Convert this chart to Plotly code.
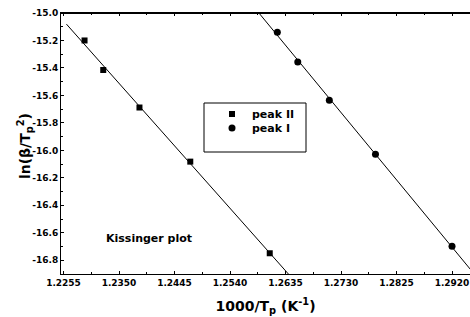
import numpy as np
import plotly.graph_objects as go

# ---- data ----
peak2_x = [1.2291, 1.2323, 1.2385, 1.2472, 1.2608]
peak2_y = [-15.200, -15.415, -15.688, -16.082, -16.749]
peak1_x = [1.2621, 1.2656, 1.2710, 1.2789, 1.2920]
peak1_y = [-15.140, -15.357, -15.635, -16.029, -16.698]

fit2_x = [1.2260, 1.2700]   # extent of fitted line, peak II
fit1_x = [1.2550, 1.2960]   # extent of fitted line, peak I

x_tickvals = [1.2255, 1.2350, 1.2445, 1.2540, 1.2635, 1.2730, 1.2825, 1.2920]
x_ticktext = ["1.2255", "1.2350", "1.2445", "1.2540", "1.2635", "1.2730", "1.2825", "1.2920"]
y_tickvals = [-15.0, -15.2, -15.4, -15.6, -15.8, -16.0, -16.2, -16.4, -16.6, -16.8]
y_ticktext = ["-15.0", "-15.2", "-15.4", "-15.6", "-15.8", "-16.0", "-16.2", "-16.4", "-16.6", "-16.8"]

FONT = "DejaVu Sans"

# linear (Kissinger) fits
c2 = np.polyfit(peak2_x, peak2_y, 1)
c1 = np.polyfit(peak1_x, peak1_y, 1)
f2x = np.array(fit2_x); f1x = np.array(fit1_x)

fig = go.Figure()
fig.add_trace(go.Scatter(x=f2x, y=np.polyval(c2, f2x), mode="lines",
                         line=dict(color="black", width=1), showlegend=False, hoverinfo="skip"))
fig.add_trace(go.Scatter(x=f1x, y=np.polyval(c1, f1x), mode="lines",
                         line=dict(color="black", width=1), showlegend=False, hoverinfo="skip"))
fig.add_trace(go.Scatter(x=peak2_x, y=peak2_y, mode="markers", name="peak II",
                         marker=dict(symbol="square", size=6, color="black"), legend="legend"))
fig.add_trace(go.Scatter(x=peak1_x, y=peak1_y, mode="markers", name="peak I",
                         marker=dict(symbol="circle", size=7, color="black"), legend="legend2"))

L, T, B = 61, 13, 43
W, H = 470, 317
pw, ph = W - L, H - T - B

def px2paper(px, py):
    return (px - L) / pw, (H - B - py) / ph

tickfont = dict(family=FONT, size=9, color="black", weight="bold")
titlefont = dict(family=FONT, size=14, color="black", weight="bold")

fig.update_layout(
    width=W, height=H,
    margin=dict(l=L, r=0, t=T, b=B, autoexpand=False),
    plot_bgcolor="white", paper_bgcolor="white",
    font=dict(family=FONT, color="black"),
    xaxis=dict(range=[1.22507, 1.29508], showgrid=False, zeroline=False, automargin=False,
               showline=True, linecolor="black", linewidth=1, mirror="ticks",
               ticks="inside", ticklen=3, tickcolor="black",
               tickvals=x_tickvals, ticktext=x_ticktext, tickfont=tickfont,
               minor=dict(ticks="inside", ticklen=2, tickcolor="black", dtick=0.00475, tick0=1.2255),
               title=dict(text="1000/T<sub>p</sub> (K<sup>-1</sup>)", font=titlefont, standoff=14)),
    yaxis=dict(range=[-16.9, -15.0], showgrid=False, zeroline=False, automargin=False,
               showline=True, linecolor="black", linewidth=1,
               ticks="inside", ticklen=3, tickcolor="black",
               tickvals=y_tickvals, ticktext=y_ticktext, tickfont=tickfont,
               minor=dict(ticks="inside", ticklen=2, tickcolor="black", dtick=0.1, tick0=-15.0)),
)

# y-axis title placed as a rotated annotation
tx, _ = px2paper(25, 0)
fig.add_annotation(x=tx, y=0.49, xref="paper", yref="paper", text="ln(β/T<sub>p</sub><sup>2</sup>)",
                   textangle=-90, showarrow=False, font=titlefont, xanchor="center", yanchor="middle")

# top frame line
fig.add_shape(type="line", xref="paper", yref="paper", x0=0, x1=1, y0=1, y1=1,
              line=dict(color="black", width=2), layer="above")

lx, ly1 = px2paper(212, 99.5)
_, ly2 = px2paper(212, 113.5)
legfont = dict(family=FONT, size=11, color="black", weight="bold")
fig.update_layout(
    legend=dict(x=lx, y=ly1, xanchor="left", yanchor="top", bgcolor="rgba(0,0,0,0)",
                borderwidth=0, font=legfont),
    legend2=dict(x=lx, y=ly2, xanchor="left", yanchor="top", bgcolor="rgba(0,0,0,0)",
                 borderwidth=0, font=legfont),
)

bx0, by0 = px2paper(204, 152)
bx1, by1 = px2paper(306, 103)
fig.add_shape(type="rect", xref="paper", yref="paper", x0=bx0, x1=bx1, y0=by0, y1=by1,
              line=dict(color="black", width=1), fillcolor="rgba(0,0,0,0)")

fig.add_annotation(x=1.2401, y=-16.638, xref="x", yref="y", text="Kissinger plot",
                   showarrow=False, font=dict(family=FONT, size=11, color="black", weight="bold"))

fig.write_html("out.html", config={"displayModeBar": False},
               post_script="document.body.style.margin='0';")
